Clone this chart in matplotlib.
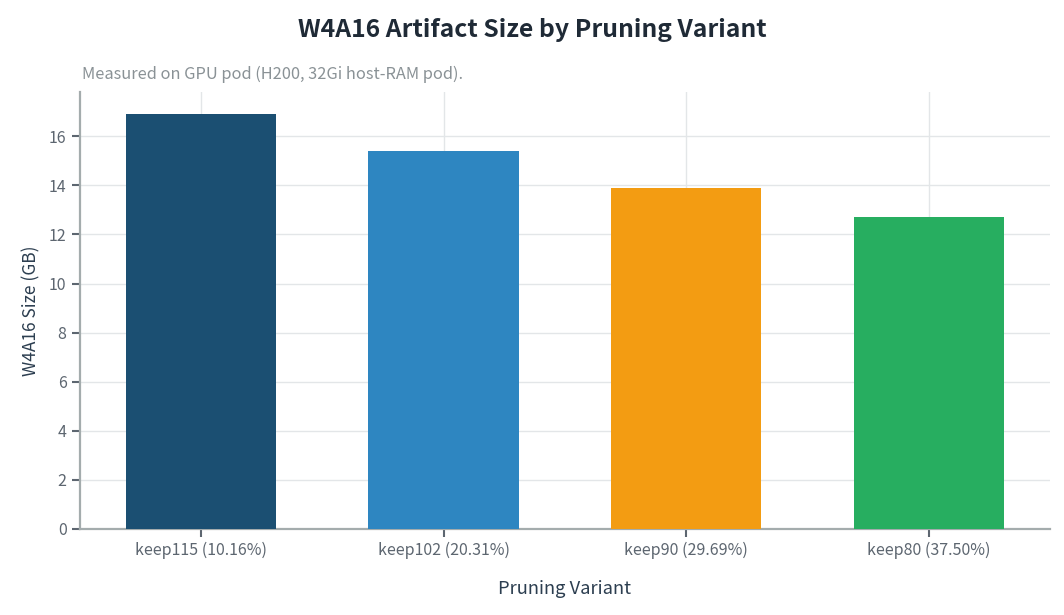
import matplotlib.pyplot as plt
import numpy as np

plt.rcParams['font.family'] = ['Noto Sans CJK KR', 'DejaVu Sans']

variants = ["keep115 (10.16%)", "keep102 (20.31%)", "keep90 (29.69%)", "keep80 (37.50%)"]
sizes_gb = [16.9, 15.4, 13.9, 12.7]
colors = ["#1b4f72", "#2e86c1", "#f39c12", "#27ae60"]

fig = plt.figure(figsize=(10.64, 6.15), dpi=100)
ax = fig.add_axes([0.075, 0.140, 0.912, 0.710])

x = np.arange(len(variants))
ax.bar(x, sizes_gb, width=0.62, color=colors, zorder=3)

ax.set_xlim(-0.5, len(variants) - 0.5)
ax.set_ylim(0, max(sizes_gb) * 1.053)
ax.set_xticks(x)
ax.set_xticklabels(variants)
ax.set_yticks(np.arange(0, 17, 2))

ax.grid(True, color="#e3e6e8", linewidth=1.0, zorder=0)
ax.set_axisbelow(True)
for s in ["top", "right"]:
    ax.spines[s].set_visible(False)
for s in ["left", "bottom"]:
    ax.spines[s].set_color("#a4acad")
    ax.spines[s].set_linewidth(1.6)

ax.tick_params(axis="both", colors="#5d6670", labelsize=11.5, length=6, width=1.5)

ax.set_ylabel("W4A16 Size (GB)", fontsize=12.5, color="#2c3e50", labelpad=6)
ax.set_xlabel("Pruning Variant", fontsize=13.2, color="#2c3e50", labelpad=15)

fig.text(0.5, 0.952, "W4A16 Artifact Size by Pruning Variant", ha="center", va="center",
         fontsize=17.8, fontweight="bold", color="#1f2a36")
fig.text(0.077, 0.879, "Measured on GPU pod (H200, 32Gi host-RAM pod).", ha="left", va="center",
         fontsize=11.8, color="#8a9296")

fig.savefig("out.png", dpi=100)
